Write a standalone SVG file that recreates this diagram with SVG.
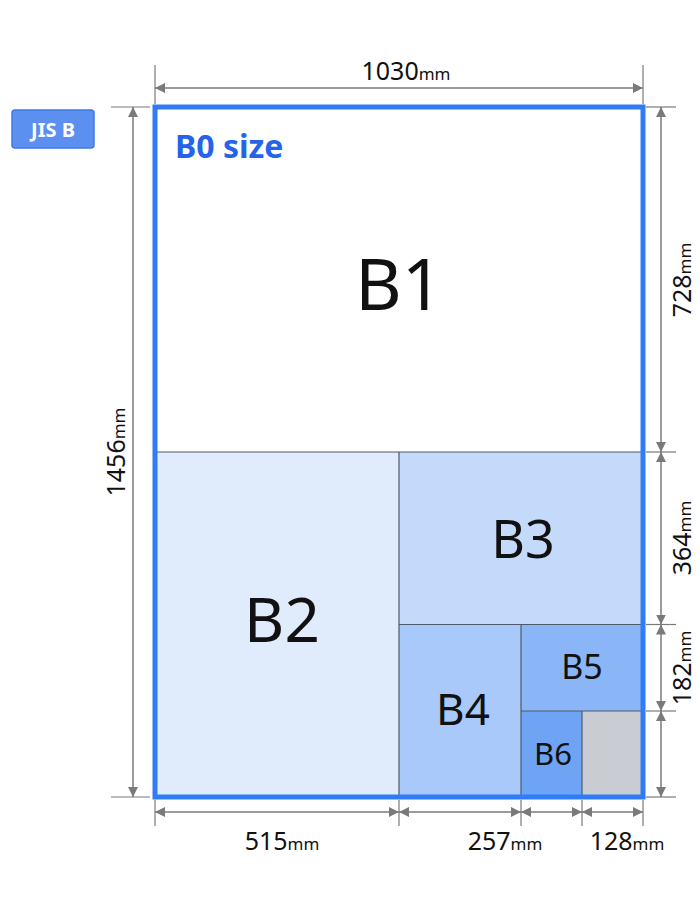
<svg xmlns="http://www.w3.org/2000/svg" width="700" height="910" viewBox="0 0 700 910">
<defs>
<style>
.lbl{font-family:"Noto Sans","Open Sans","DejaVu Sans",sans-serif;fill:#111;text-anchor:middle}
.dim{font-family:"Noto Sans","Open Sans","DejaVu Sans",sans-serif;fill:#111;font-size:25px;text-anchor:middle}
.mm{font-size:17px}
.dl{stroke:#7a7a7a;stroke-width:1.5;fill:none}
.ext{stroke:#7a7a7a;stroke-width:1.2;fill:none}
.div{stroke:#4d5a6a;stroke-width:1.2;fill:none}
</style>
<marker id="ah" viewBox="0 0 10 10" refX="10" refY="5" markerWidth="10" markerHeight="10" orient="auto-start-reverse" markerUnits="userSpaceOnUse">
<path d="M0,0 L10,5 L0,10 z" fill="#7a7a7a"/>
</marker>
</defs>
<rect width="700" height="910" fill="#ffffff"/>

<g id="title">
<rect x="12" y="110" width="82" height="38" rx="3" fill="#5b8ff0" stroke="#3f78e8" stroke-width="1.5"/>
<text x="53" y="137" font-family="Noto Sans, Open Sans, sans-serif" font-size="20" font-weight="bold" fill="#ffffff" text-anchor="middle">JIS B</text>
</g>

<g id="B1">
<rect x="155" y="107" width="488" height="345" fill="#ffffff"/>
<text class="lbl" x="399" y="310" font-size="72">B1</text>
</g>
<g id="B2">
<rect x="155" y="452" width="244" height="345" fill="#e0ebfc"/>
<text class="lbl" x="282" y="642" font-size="62">B2</text>
</g>
<g id="B3">
<rect x="399" y="452" width="244" height="172.5" fill="#c4dafb"/>
<text class="lbl" x="523" y="558" font-size="52">B3</text>
</g>
<g id="B4">
<rect x="399" y="624.5" width="122" height="172.5" fill="#a8c9fa"/>
<text class="lbl" x="463" y="725" font-size="44">B4</text>
</g>
<g id="B5">
<rect x="521" y="624.5" width="122" height="86.5" fill="#8ab6f7"/>
<text class="lbl" x="582" y="679" font-size="34">B5</text>
</g>
<g id="B6">
<rect x="521" y="711" width="61" height="86" fill="#6fa3f4"/>
<text class="lbl" x="553" y="765" font-size="31">B6</text>
</g>
<g id="rest">
<rect x="582" y="711" width="61" height="86" fill="#c9ccd2"/>
</g>

<g id="title-text">
<text x="175" y="158" font-family="Noto Sans, Open Sans, sans-serif" font-size="32" font-weight="bold" fill="#2563eb">B0 size</text>
</g>

<g id="dividers">
<line class="div" x1="155" y1="452" x2="643" y2="452"/>
<line class="div" x1="399" y1="452" x2="399" y2="797"/>
<line class="div" x1="399" y1="624.5" x2="643" y2="624.5"/>
<line class="div" x1="521" y1="624.5" x2="521" y2="797"/>
<line class="div" x1="521" y1="711" x2="643" y2="711"/>
<line class="div" x1="582" y1="711" x2="582" y2="797"/>
</g>

<g id="B0">
<rect x="155" y="107" width="488" height="690" fill="none" stroke="#2f7cf6" stroke-width="5"/>
</g>

<g id="connectors">
<line class="ext" x1="155" y1="65" x2="155" y2="104"/>
<line class="ext" x1="643" y1="65" x2="643" y2="104"/>
<line class="dl" x1="155" y1="88" x2="643" y2="88" marker-start="url(#ah)" marker-end="url(#ah)"/>
<line class="ext" x1="111" y1="107" x2="150" y2="107"/>
<line class="ext" x1="111" y1="797" x2="150" y2="797"/>
<line class="dl" x1="133" y1="107" x2="133" y2="797" marker-start="url(#ah)" marker-end="url(#ah)"/>
<line class="ext" x1="155" y1="800" x2="155" y2="826"/>
<line class="ext" x1="399" y1="800" x2="399" y2="826"/>
<line class="ext" x1="521" y1="800" x2="521" y2="826"/>
<line class="ext" x1="582" y1="800" x2="582" y2="826"/>
<line class="ext" x1="643" y1="800" x2="643" y2="826"/>
<line class="dl" x1="155" y1="812" x2="399" y2="812" marker-start="url(#ah)" marker-end="url(#ah)"/>
<line class="dl" x1="399" y1="812" x2="521" y2="812" marker-start="url(#ah)" marker-end="url(#ah)"/>
<line class="dl" x1="521" y1="812" x2="582" y2="812" marker-start="url(#ah)" marker-end="url(#ah)"/>
<line class="dl" x1="582" y1="812" x2="643" y2="812" marker-start="url(#ah)" marker-end="url(#ah)"/>
<line class="ext" x1="646" y1="107" x2="676" y2="107"/>
<line class="ext" x1="646" y1="452" x2="676" y2="452"/>
<line class="ext" x1="646" y1="624.5" x2="676" y2="624.5"/>
<line class="ext" x1="646" y1="711" x2="676" y2="711"/>
<line class="ext" x1="646" y1="797" x2="676" y2="797"/>
<line class="dl" x1="661" y1="107" x2="661" y2="452" marker-start="url(#ah)" marker-end="url(#ah)"/>
<line class="dl" x1="661" y1="452" x2="661" y2="624.5" marker-start="url(#ah)" marker-end="url(#ah)"/>
<line class="dl" x1="661" y1="624.5" x2="661" y2="711" marker-start="url(#ah)" marker-end="url(#ah)"/>
<line class="dl" x1="661" y1="711" x2="661" y2="797" marker-start="url(#ah)" marker-end="url(#ah)"/>
</g>

<g id="dim-labels">
<text class="dim" x="406" y="80" font-size="28">1030<tspan class="mm">mm</tspan></text>
<text class="dim" transform="translate(125,452) rotate(-90)">1456<tspan class="mm">mm</tspan></text>
<text class="dim" x="282" y="850">515<tspan class="mm">mm</tspan></text>
<text class="dim" x="505" y="850">257<tspan class="mm">mm</tspan></text>
<text class="dim" x="627" y="850">128<tspan class="mm">mm</tspan></text>
<text class="dim" font-size="22" transform="translate(691,280) rotate(-90)">728<tspan class="mm">mm</tspan></text>
<text class="dim" font-size="22" transform="translate(691,538) rotate(-90)">364<tspan class="mm">mm</tspan></text>
<text class="dim" font-size="22" transform="translate(691,668) rotate(-90)">182<tspan class="mm">mm</tspan></text>
</g>
</svg>
